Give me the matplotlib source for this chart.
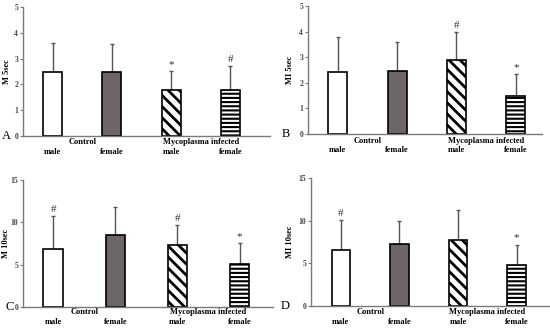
import matplotlib
matplotlib.use("Agg")
import matplotlib.pyplot as plt

plt.rcParams['font.family'] = ['Liberation Serif', 'DejaVu Serif']
plt.rcParams['hatch.linewidth'] = 1.8

groups = ["Control", "Mycoplasma infected"]
sexes = ["male", "female", "male", "female"]

m5_mean = [2.48, 2.47, 1.80, 1.78]
m5_err = [1.14, 1.11, 0.72, 0.94]
m5_marks = ["", "", "*", "#"]

mi5_mean = [2.43, 2.45, 2.88, 1.50]
mi5_err = [1.37, 1.13, 1.12, 0.85]
mi5_marks = ["", "", "#", "*"]

m10_mean = [6.9, 8.5, 7.3, 5.1]
m10_err = [3.8, 3.3, 2.4, 2.5]
m10_marks = ["#", "", "#", "*"]

mi10_mean = [6.55, 7.3, 7.75, 4.75]
mi10_err = [3.55, 2.7, 3.45, 2.45]
mi10_marks = ["#", "", "", "*"]

panels = [
    dict(letter="A", ylabel="M 5sec", mean=m5_mean, err=m5_err, marks=m5_marks,
         ylim=5, yticks=[0, 1, 2, 3, 4, 5],
         rect=[23, 7, 270, 136], xlim=(-0.50, 3.67), lx=-21, gy=-6, sy=-16, lp=2),
    dict(letter="B", ylabel="MI 5sec", mean=mi5_mean, err=mi5_err, marks=mi5_marks,
         ylim=5, yticks=[0, 1, 2, 3, 4, 5],
         rect=[308, 6, 542, 134], xlim=(-0.50, 3.44), lx=-26, gy=-7, sy=-16, lp=4),
    dict(letter="C", ylabel="M 10sec", mean=m10_mean, err=m10_err, marks=m10_marks,
         ylim=15, yticks=[0, 5, 10, 15],
         rect=[23, 180, 273, 307], xlim=(-0.49, 3.54), lx=-17, gy=-5, sy=-15, lp=0.5),
    dict(letter="D", ylabel="MI 10sec", mean=mi10_mean, err=mi10_err, marks=mi10_marks,
         ylim=15, yticks=[0, 5, 10, 15],
         rect=[311, 178, 550, 306], xlim=(-0.51, 3.57), lx=-30, gy=-6, sy=-16, lp=3),
]

W, H = 550, 328
fig = plt.figure(figsize=(5.5, 3.28), dpi=100)

face = ["white", "#6e6666", "white", "white"]
hatches = [None, None, "\\\\\\", "----"]
hlw = [1.8, 1.8, 2.0, 1.5]
axis_gray = "#7a7a7a"

for p in panels:
    l, t, r, b = p["rect"]
    ax = fig.add_axes([l / W, 1 - b / H, (r - l) / W, (b - t) / H])
    x = list(range(4))
    for i in x:
        plt.rcParams['hatch.linewidth'] = hlw[i]
        bc = ax.bar(i, p["mean"][i], width=0.32, color=face[i], edgecolor="black",
                    linewidth=1.2, hatch=hatches[i], zorder=2)
        for patch in bc:
            try:
                patch.set_hatch_linewidth(hlw[i])
            except Exception:
                pass
    ax.errorbar(x, p["mean"], yerr=[[0] * 4, p["err"]], fmt="none",
                ecolor="#555555", elinewidth=1.0, capsize=1.5, capthick=1.0, zorder=1)
    for i in x:
        if p["marks"][i]:
            ax.annotate(p["marks"][i], (i, p["mean"][i] + p["err"][i]),
                        xytext=(0, 2), textcoords="offset pixels",
                        ha="center", va="bottom", fontsize=8, color="#333333")
    ax.set_xlim(*p["xlim"])
    ax.set_ylim(0, p["ylim"])
    ax.set_yticks(p["yticks"])
    ax.set_yticklabels([str(v) for v in p["yticks"]], fontsize=5.5,
                       fontweight="bold", color="#444444")
    ax.set_xticks([])
    ax.tick_params(axis="y", length=2, width=0.8, color=axis_gray, pad=1.5)
    for s in ["top", "right"]:
        ax.spines[s].set_visible(False)
    for s in ["left", "bottom"]:
        ax.spines[s].set_color(axis_gray)
        ax.spines[s].set_linewidth(1.0)
    ax.set_ylabel(p["ylabel"], fontsize=6, fontweight="bold", labelpad=p["lp"])
    for gi, g in enumerate(groups):
        ax.annotate(g, (gi * 2 + 0.5, 0), xycoords=("data", "axes fraction"),
                    xytext=(0, p["gy"]), textcoords="offset pixels",
                    ha="center", va="center", fontsize=6, fontweight="bold")
    for i, s in enumerate(sexes):
        ax.annotate(s, (i, 0), xycoords=("data", "axes fraction"),
                    xytext=(0, p["sy"]), textcoords="offset pixels",
                    ha="center", va="center", fontsize=6, fontweight="bold")
    ax.annotate(p["letter"], (0, 0), xycoords="axes fraction",
                xytext=(p["lx"], 0), textcoords="offset pixels",
                ha="left", va="center", fontsize=9)

fig.savefig("out.png", dpi=100)
